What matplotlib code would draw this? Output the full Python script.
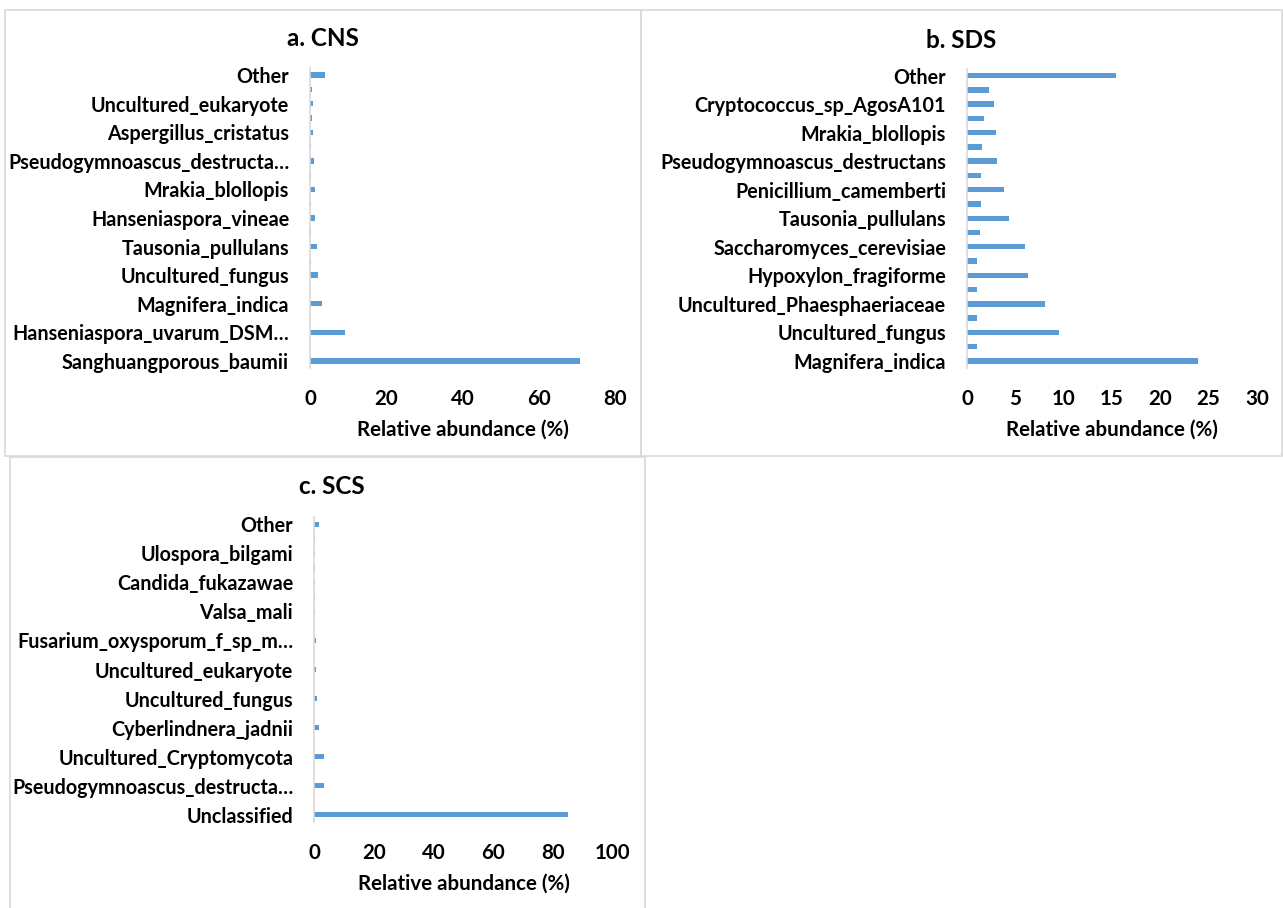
import matplotlib
matplotlib.use("Agg")
import matplotlib.pyplot as plt
from matplotlib.patches import Rectangle

plt.rcParams['font.family'] = ['Lato', 'DejaVu Sans']
plt.rcParams['font.weight'] = 'bold'

W, H = 1283, 908
DPI = 100

# ---- data (listed top to bottom, as in the chart) ----
cns_labels = ["Other", "Uncultured_eukaryote", "Aspergillus_cristatus",
              "Pseudogymnoascus_destructa…", "Mrakia_blollopis",
              "Hanseniaspora_vineae", "Tausonia_pullulans", "Uncultured_fungus",
              "Magnifera_indica", "Hanseniaspora_uvarum_DSM…",
              "Sanghuangporous_baumii"]
cns_values = [3.9, 0.45, 0.7, 0.45, 0.8, 0.35, 0.95, 0.3, 1.25, 0.25, 1.4,
              0.2, 1.85, 0.15, 2.0, 0.12, 3.15, 0.08, 9.2, 0.05, 70.8]
cns_ticks = [0, 20, 40, 60, 80]

sds_labels = ["Other", "Cryptococcus_sp_AgosA101", "Mrakia_blollopis",
              "Pseudogymnoascus_destructans", "Penicillium_camemberti",
              "Tausonia_pullulans", "Saccharomyces_cerevisiae",
              "Hypoxylon_fragiforme", "Uncultured_Phaesphaeriaceae",
              "Uncultured_fungus", "Magnifera_indica"]
sds_values = [15.4, 2.3, 2.8, 1.8, 3.0, 1.6, 3.1, 1.45, 3.8, 1.4, 4.3,
              1.3, 6.0, 1.07, 6.35, 1.04, 8.1, 1.0, 9.5, 1.0, 23.9]
sds_ticks = [0, 5, 10, 15, 20, 25, 30]

scs_labels = ["Other", "Ulospora_bilgami", "Candida_fukazawae", "Valsa_mali",
              "Fusarium_oxysporum_f_sp_m…", "Uncultured_eukaryote",
              "Uncultured_fungus", "Cyberlindnera_jadnii",
              "Uncultured_Cryptomycota", "Pseudogymnoascus_destructa…",
              "Unclassified"]
scs_values = [1.8, 0.3, 0.3, 0.3, 0.4, 0.25, 0.5, 0.15, 0.65, 0.1, 0.75,
              0.05, 1.1, 0.05, 1.55, 0.05, 3.3, 0.05, 3.3, 0.05, 85.0]
scs_ticks = [0, 20, 40, 60, 80, 100]

titles = ["a. CNS", "b. SDS", "c. SCS"]
xlabel = "Relative abundance (%)"

BAR = "#5B9BD5"
GRID = "#D9D9D9"

fig = plt.figure(figsize=(W / DPI, H / DPI), dpi=DPI)


def fx(px):
    return px / W


def fy(py):
    return 1 - py / H


# chart-area frames (pixel boxes: left, top, right, bottom)
frames = [(5, 10, 641, 456), (641, 10, 1282, 456), (10, 457, 645, 915)]
for (l, t, r, b) in frames:
    fig.patches.append(Rectangle((fx(l), fy(b)), fx(r - l), (b - t) / H,
                                 transform=fig.transFigure, fill=False,
                                 edgecolor=GRID, linewidth=1.2, zorder=0))

# axes pixel boxes (left, top, right, bottom)
boxes = [(310, 68, 615, 368), (967, 68.5, 1257, 368), (314, 517, 613, 822)]
title_pos = [(323, 38), (961.5, 40), (332, 487)]
datasets = [(cns_labels, cns_values, cns_ticks),
            (sds_labels, sds_values, sds_ticks),
            (scs_labels, scs_values, scs_ticks)]

for (l, t, r, b), (labels, values, ticks), title, (tx, ty) in zip(
        boxes, datasets, titles, title_pos):
    ax = fig.add_axes([fx(l), fy(b), fx(r - l), (b - t) / H])
    n = len(values)
    pos = list(range(n))
    ax.barh(pos, values, height=0.38, color=BAR, zorder=2)
    ax.set_ylim(n - 0.5, -0.5)
    ax.set_xlim(ticks[0], ticks[-1])
    ax.set_xticks(ticks)
    ax.set_xticklabels([str(v) for v in ticks])
    ax.set_yticks(pos[::2])
    ax.set_yticklabels(labels)
    for s in ["top", "right", "bottom"]:
        ax.spines[s].set_visible(False)
    ax.spines["left"].set_color(GRID)
    ax.spines["left"].set_linewidth(1.2)
    ax.tick_params(axis="both", length=0)
    ax.tick_params(axis="x", labelsize=14.8, pad=15)
    ax.tick_params(axis="y", labelsize=14.2, pad=15)
    ax.set_xlabel(xlabel, fontsize=14.8, fontweight="bold", labelpad=8)
    ax.patch.set_alpha(0)
    fig.text(fx(tx), fy(ty), title, ha="center", va="center",
             fontsize=17.5, fontweight="bold")

fig.savefig("out.png", dpi=DPI)
